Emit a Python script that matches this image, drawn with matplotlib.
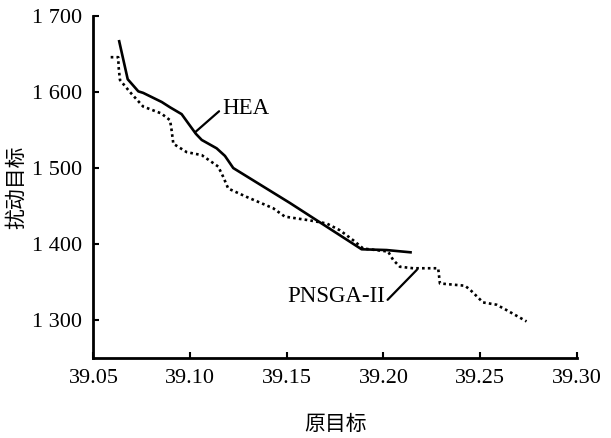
import matplotlib
matplotlib.use("Agg")
import matplotlib.pyplot as plt

hea_x = [39.0633, 39.0677, 39.0732, 39.0757, 39.0853, 39.0896, 39.0956, 39.0990,
         39.1030, 39.1060, 39.1137, 39.1180, 39.1223, 39.1516, 39.1887, 39.2016, 39.2140]
hea_y = [1667, 1617, 1601, 1599, 1587, 1580, 1571, 1559,
         1545, 1537, 1526, 1516, 1500, 1454, 1393, 1392, 1389]

pn_x = [39.0589, 39.0628, 39.0630, 39.0637, 39.0689, 39.0757, 39.0850, 39.0896, 39.0904,
        39.0913, 39.0982, 39.1060, 39.1145, 39.1170, 39.1197, 39.1292, 39.1430, 39.1490,
        39.1620, 39.1706, 39.1775, 39.1843, 39.1895, 39.2024, 39.2050, 39.2085, 39.2154,
        39.2283, 39.2292, 39.2421, 39.2447, 39.2515, 39.2585, 39.2636, 39.2740]
pn_y = [1646, 1646, 1633, 1616, 1600, 1581, 1572, 1563, 1550,
        1532, 1521, 1517, 1502, 1489, 1473, 1462, 1447, 1436,
        1431, 1427, 1418, 1405, 1394, 1390, 1379, 1370, 1368,
        1368, 1348, 1345, 1340, 1323, 1320, 1313, 1298]

x_ticks = [39.05, 39.10, 39.15, 39.20, 39.25, 39.30]
x_tick_labels = ["39.05", "39.10", "39.15", "39.20", "39.25", "39.30"]
y_ticks = [1300, 1400, 1500, 1600, 1700]
y_tick_labels = ["1 300", "1 400", "1 500", "1 600", "1 700"]

serif = ["Liberation Serif", "DejaVu Serif"]
cjk = ["Noto Sans CJK SC", "DejaVu Sans"]

fig = plt.figure(figsize=(6.11, 4.38), dpi=100)
ax = fig.add_axes([0.153, 0.183, 0.791, 0.780])

ax.plot(hea_x, hea_y, color="black", lw=1.9, solid_joinstyle="round")
ax.plot(pn_x, pn_y, color="black", lw=1.9, linestyle=(0, (1, 1.2)))

ax.set_xlim(39.05, 39.30)
ax.set_ylim(1250, 1700)
ax.set_xticks(x_ticks)
ax.set_xticklabels(x_tick_labels, fontfamily=serif, fontsize=16)
ax.set_yticks(y_ticks)
ax.set_yticklabels(y_tick_labels, fontfamily=serif, fontsize=16)
ax.tick_params(direction="in", length=4, width=1.5, pad=8)

for s in ["top", "right"]:
    ax.spines[s].set_visible(False)
for s in ["left", "bottom"]:
    ax.spines[s].set_linewidth(2)

ax.set_xlabel("原目标", fontfamily=cjk, fontsize=15, labelpad=18)
ax.set_ylabel("扰动目标", fontfamily=cjk, fontsize=15, labelpad=4)

ax.annotate("HEA", xy=(39.1025, 1547), xytext=(39.1164, 1578),
            fontfamily=serif, fontsize=16.5, ha="left", va="center",
            arrowprops=dict(arrowstyle="-", color="black", lw=1.6,
                            shrinkA=0, shrinkB=0, relpos=(0, 0.5)))
ax.annotate("PNSGA-II", xy=(39.2173, 1366), xytext=(39.2007, 1331),
            fontfamily=serif, fontsize=16.5, ha="right", va="center",
            arrowprops=dict(arrowstyle="-", color="black", lw=1.6,
                            shrinkA=0, shrinkB=0, relpos=(1, 0.2)))

fig.savefig("out.png", dpi=100)
